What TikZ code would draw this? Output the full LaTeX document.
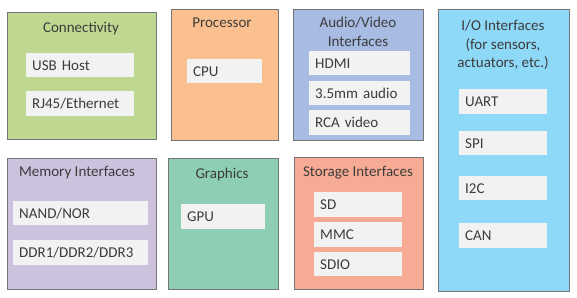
\documentclass[tikz,border=0pt]{standalone}
\usepackage{fontspec}
\setmainfont{Carlito}
\usepackage{tikz}
\usetikzlibrary{positioning}
\definecolor{bdgray}{RGB}{118,118,118}
\definecolor{txtgray}{RGB}{60,60,60}
\definecolor{itemfill}{RGB}{242,242,242}
\definecolor{conngreen}{RGB}{190,216,145}
\definecolor{procorange}{RGB}{250,192,143}
\definecolor{avblue}{RGB}{167,187,227}
\definecolor{iocyan}{RGB}{142,216,248}
\definecolor{mempurple}{RGB}{204,194,222}
\definecolor{gfxteal}{RGB}{142,206,180}
\definecolor{storsalmon}{RGB}{247,171,148}

\tikzset{
  group/.style={draw=bdgray,line width=1.1pt,anchor=north west,inner sep=0pt},
  grptitle/.style={text=txtgray,align=center,inner sep=0pt,
    font=\fontsize{15}{18.5}\selectfont},
  item/.style={fill=itemfill,anchor=north west,inner sep=6pt,align=left,
    text=txtgray,font=\fontsize{15}{18}\selectfont},
}

\begin{document}
\begin{tikzpicture}[x=1pt,y=-1pt]
    \useasboundingbox[fill=white] (0,0) rectangle (577,297);
    % top row
    \node[group,fill=conngreen,minimum width=149pt,minimum height=127pt] (conn) at (7,12) {};
    \node[grptitle] (conntitle) at (81,29) {Connectivity};
    \node[item,text width=96pt,minimum height=24pt] (usb) at (26,53) {USB Host};
    \node[item,text width=96pt,minimum height=25pt] (rj45) at (26,91) {RJ45/Ethernet};

    \node[group,fill=procorange,minimum width=107pt,minimum height=131pt] (proc) at (171,9) {};
    \node[grptitle] (proctitle) at (222,23) {Processor};
    \node[item,text width=63pt,minimum height=24pt] (cpu) at (187,59) {CPU};

    \node[group,fill=avblue,minimum width=130pt,minimum height=131pt] (av) at (293,9) {};
    \node[grptitle] (avtitle) at (358,32) {Audio/Video\\Interfaces};
    \node[item,text width=89pt,minimum height=24pt] (hdmi) at (309,51) {HDMI};
    \node[item,text width=89pt,minimum height=24pt] (audio) at (309,81) {3.5mm audio};
    \node[item,text width=89pt,minimum height=25pt] (rca) at (309,110) {RCA video};

    % tall box on the right
    \node[group,fill=iocyan,minimum width=131pt,minimum height=282pt] (io) at (438,9) {};
    \node[grptitle] (iotitle) at (503,45) {I/O Interfaces\\(for sensors,\\actuators, etc.)};
    \node[item,text width=76pt,minimum height=25pt] (uart) at (459,89) {UART};
    \node[item,text width=76pt,minimum height=24pt] (spi) at (459,131) {SPI};
    \node[item,text width=76pt,minimum height=24pt] (i2c) at (459,176) {I2C};
    \node[item,text width=76pt,minimum height=25pt] (can) at (459,223) {CAN};

    % bottom row
    \node[group,fill=mempurple,minimum width=149pt,minimum height=131pt] (mem) at (7,158) {};
    \node[grptitle] (memtitle) at (77,173) {Memory Interfaces};
    \node[item,text width=123pt,minimum height=24pt] (nand) at (13,201) {NAND/NOR};
    \node[item,text width=123pt,minimum height=25pt] (ddr) at (13,240) {DDR1/DDR2/DDR3};

    \node[group,fill=gfxteal,minimum width=110pt,minimum height=131pt] (gfx) at (168,158) {};
    \node[grptitle] (gfxtitle) at (222,174) {Graphics};
    \node[item,text width=72pt,minimum height=25pt] (gpu) at (181,204) {GPU};

    \node[group,fill=storsalmon,minimum width=129pt,minimum height=132pt] (stor) at (294,157) {};
    \node[grptitle] (stortitle) at (358,173) {Storage Interfaces};
    \node[item,text width=76pt,minimum height=25pt] (sd) at (314,192) {SD};
    \node[item,text width=76pt,minimum height=25pt] (mmc) at (314,222) {MMC};
    \node[item,text width=76pt,minimum height=24pt] (sdio) at (314,252) {SDIO};
\end{tikzpicture}
\end{document}
